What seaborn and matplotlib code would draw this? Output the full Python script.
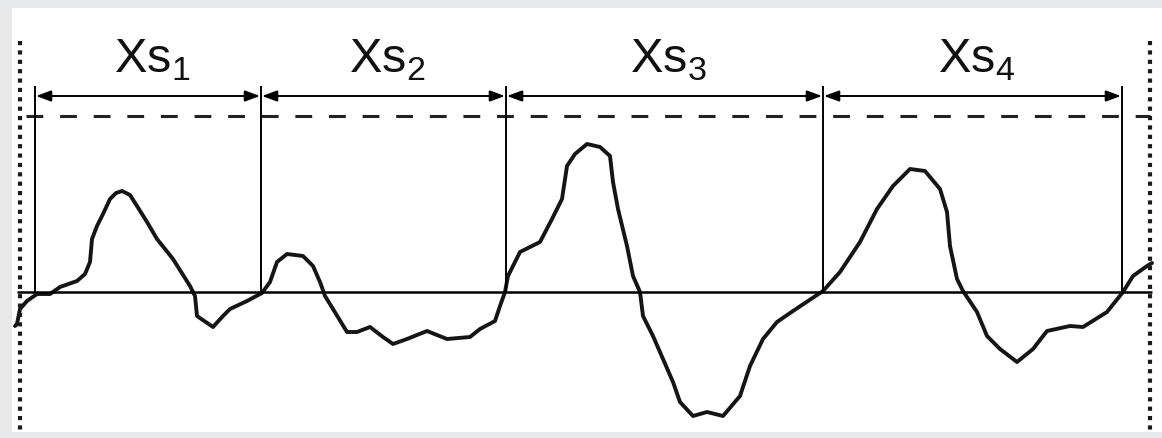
import numpy as np
import pandas as pd
import matplotlib
matplotlib.use("Agg")
import matplotlib.pyplot as plt
import seaborn as sns

# profile points (x in px, height above the mean line)
profile_x = [15, 17, 20, 27, 37, 50, 60, 77, 85, 90, 92, 97, 103, 110, 116, 122,
             130, 137, 147, 157, 173, 190, 195, 197, 213, 223, 230, 247, 262, 270,
             277, 287, 303, 313, 320, 325, 333, 347, 357, 370, 383, 393, 407, 427,
             447, 470, 480, 495, 500, 505, 508, 520, 540, 552, 562, 567, 575, 587,
             600, 610, 613, 618, 627, 633, 640, 643, 653, 663, 673, 680, 693, 707,
             723, 740, 750, 763, 777, 793, 823, 840, 860, 877, 893, 910, 925, 940,
             947, 950, 957, 963, 977, 987, 1000, 1017, 1033, 1047, 1070, 1083, 1107,
             1123, 1133, 1147, 1152]
profile_y = [-34, -32, -17, -9, -2, -2, 5, 11, 18, 30, 53, 66, 78, 93, 99, 101,
             97, 86, 70, 53, 33, 6, -4, -24, -35, -24, -17, -9, -1, 10,
             30, 38, 36, 26, 10, -4, -17, -40, -40, -35, -45, -52, -47, -39,
             -47, -45, -37, -29, -14, 0, 16, 40, 50, 73, 93, 126, 138, 148,
             145, 136, 110, 83, 46, 16, 0, -24, -44, -67, -90, -110, -124, -120,
             -124, -104, -74, -47, -30, -19, 1, 20, 50, 83, 106, 123, 121, 103,
             80, 46, 13, 1, -20, -44, -57, -70, -57, -39, -34, -35, -20,
             0, 16, 26, 29]

crossings = [35, 261, 506, 823, 1122]
labels = [r"$\mathrm{Xs}_{1}$", r"$\mathrm{Xs}_{2}$", r"$\mathrm{Xs}_{3}$", r"$\mathrm{Xs}_{4}$"]
upper_level = 176
arrow_level = 196
tick_top = 206

sns.set_theme(style="white")
plt.rcParams["font.family"] = ["Liberation Sans", "DejaVu Sans"]
plt.rcParams["mathtext.fontset"] = "custom"
plt.rcParams["mathtext.rm"] = "Liberation Sans"

fig = plt.figure(figsize=(11.62, 4.39), dpi=100, facecolor="#e7e8e9")
ax = fig.add_axes([12 / 1162, 6 / 439, 1150 / 1162, 424 / 439])
ax.set_facecolor("white")
ax.set_xlim(12, 1162)
ax.set_ylim(-140, 284)
for s in ax.spines.values():
    s.set_visible(False)
ax.set_xticks([])
ax.set_yticks([])

df = pd.DataFrame({"x": profile_x, "y": profile_y})
sns.lineplot(data=df, x="x", y="y", ax=ax, color="#151515", lw=2.8,
             sort=False, estimator=None)
ax.set_xlabel("")
ax.set_ylabel("")

# mean line and upper dashed line
ax.hlines(0, 17, 1152, color="black", lw=1.8)
ax.hlines(upper_level, 26, 1150, color="#222222", lw=2.2,
          linestyles=(0, (5.5, 5.5)))

# dotted frame lines
for xd in [20, 1150]:
    ax.plot([xd, xd], [251, -145], color="#1a1a1a", lw=3.0,
            linestyle=(0, (1, 1.25)), solid_capstyle="butt", dash_capstyle="butt")

# zero-crossing verticals
ax.vlines(crossings, 0, tick_top, color="black", lw=1.4)

for i, lab in enumerate(labels):
    x0, x1 = crossings[i], crossings[i + 1]
    ax.annotate("", xy=(x1 - 1, arrow_level), xytext=(x0 + 1, arrow_level),
                arrowprops=dict(arrowstyle="<|-|>,head_length=0.6,head_width=0.22",
                                color="black", lw=1.4, mutation_scale=15,
                                shrinkA=0, shrinkB=0))
    ax.text((x0 + x1) / 2 + 4, 220, lab, ha="center", va="baseline",
            fontsize=35, color="#111111")

fig.savefig("out.png", dpi=100, facecolor=fig.get_facecolor())
